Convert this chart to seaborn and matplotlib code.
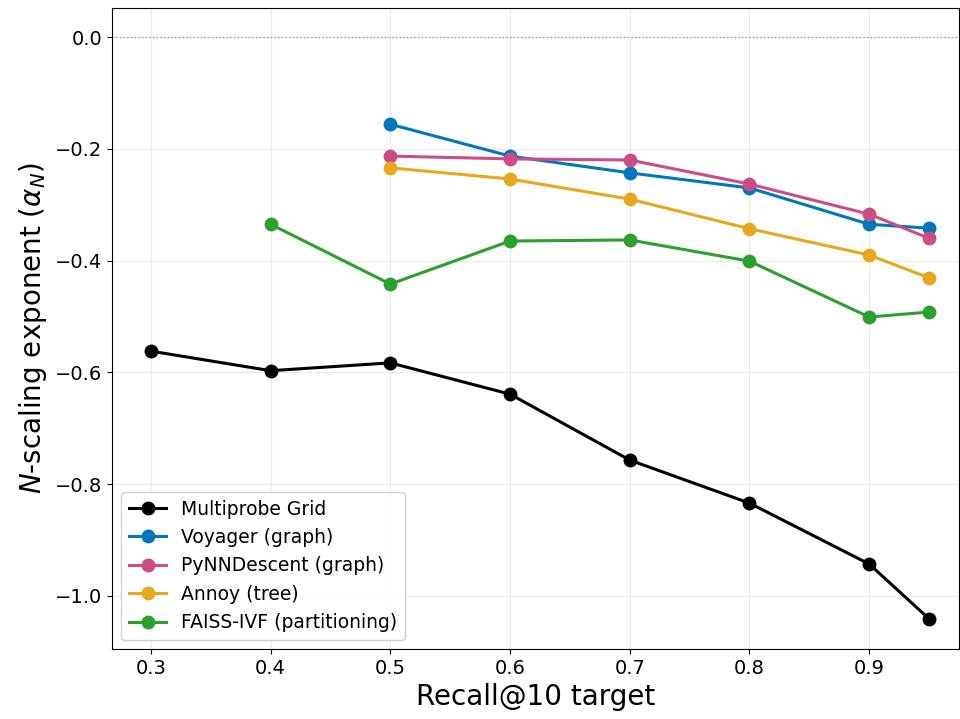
import pandas as pd
import matplotlib
matplotlib.use("Agg")
import matplotlib.pyplot as plt
import seaborn as sns

recall = [0.3, 0.4, 0.5, 0.6, 0.7, 0.8, 0.9, 0.95]
recall_late = [0.5, 0.6, 0.7, 0.8, 0.9, 0.95]
recall_faiss = [0.4, 0.5, 0.6, 0.7, 0.8, 0.9, 0.95]

grid_alpha = [-0.562, -0.597, -0.583, -0.639, -0.757, -0.834, -0.943, -1.041]
voyager_alpha = [-0.156, -0.213, -0.243, -0.270, -0.335, -0.342]
pynn_alpha = [-0.213, -0.218, -0.220, -0.263, -0.317, -0.360]
annoy_alpha = [-0.234, -0.254, -0.290, -0.343, -0.390, -0.431]
faiss_alpha = [-0.335, -0.442, -0.365, -0.363, -0.401, -0.501, -0.492]

methods = ["Multiprobe Grid", "Voyager (graph)", "PyNNDescent (graph)",
           "Annoy (tree)", "FAISS-IVF (partitioning)"]
colors = ["#000000", "#0077BB", "#CC4C88", "#E8A81E", "#2CA02C"]

rows = []
for name, xs, ys in zip(methods,
                        [recall, recall_late, recall_late, recall_late, recall_faiss],
                        [grid_alpha, voyager_alpha, pynn_alpha, annoy_alpha, faiss_alpha]):
    for x, y in zip(xs, ys):
        rows.append({"recall": x, "alpha": y, "method": name})
df = pd.DataFrame(rows)

fig = plt.figure(figsize=(9.6, 7.19), dpi=100)
ax = fig.add_axes([112 / 960, 1 - 649 / 719, (959 - 112) / 960, (649 - 8) / 719])

sns.lineplot(data=df, x="recall", y="alpha", hue="method", hue_order=methods,
             palette=colors, marker="o", markersize=10, markeredgewidth=0,
             linewidth=2.2, ax=ax)

ax.axhline(0, color="#999999", linestyle=":", linewidth=1, zorder=0)
ax.grid(True, alpha=0.25)
ax.set_axisbelow(True)
ax.set_xlim(0.2675, 0.975)
ax.set_ylim(-1.095, 0.052)
ax.set_xticks([0.3, 0.4, 0.5, 0.6, 0.7, 0.8, 0.9])
ax.set_yticks([0.0, -0.2, -0.4, -0.6, -0.8, -1.0])
ax.set_yticklabels(["0.0", "\u22120.2", "\u22120.4", "\u22120.6", "\u22120.8", "\u22121.0"])
ax.tick_params(labelsize=14)
ax.set_xlabel("Recall@10 target", fontsize=20)
ax.set_ylabel(r"$N$-scaling exponent ($\alpha_N$)", fontsize=20)
ax.legend(title=None, fontsize=13.5, loc="lower left", framealpha=0.9)

fig.savefig("out.png", dpi=100)
